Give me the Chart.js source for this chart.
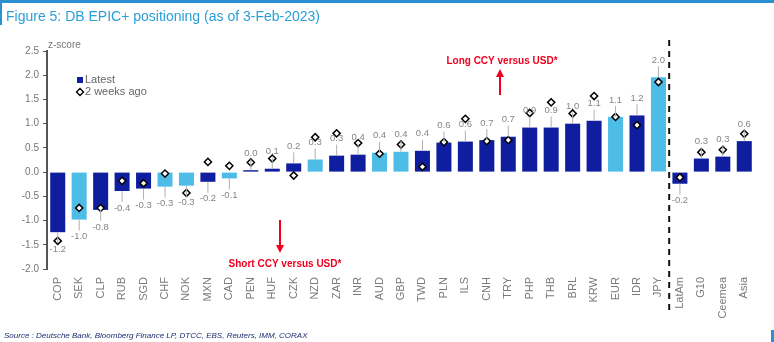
<!DOCTYPE html>
<html lang="en">
<head>
    <meta charset="UTF-8">
    <title>DB EPIC+ positioning</title>
    <script src="https://cdn.jsdelivr.net/npm/chart.js"></script>
    <style>
        body {
            margin: 0;
            background: #ffffff;
            font-family: Arial, "Liberation Sans", sans-serif;
        }

        .wrap {
            position: relative;
            width: 774px;
            height: 342px;
            overflow: hidden;
        }

        .top-bar {
            position: absolute;
            left: 0;
            top: 0;
            width: 774px;
            height: 3px;
            background: #2b8fd2;
        }

        .side-bar {
            position: absolute;
            left: 0;
            top: 0;
            width: 2px;
            height: 25px;
            background: #2b8fd2;
        }

        .corner-bar {
            position: absolute;
            left: 771px;
            top: 330px;
            width: 3px;
            height: 12px;
            background: #2b8fd2;
        }

        .title {
            position: absolute;
            left: 6px;
            top: 8px;
            font-size: 14px;
            color: #2a9fd8;
            white-space: nowrap;
        }

        .source {
            position: absolute;
            left: 4px;
            top: 331px;
            font-size: 8px;
            font-style: italic;
            color: #1d2d6e;
            white-space: nowrap;
        }

        canvas {
            position: absolute;
            left: 0;
            top: 0;
        }
    </style>
</head>
<body>
    <div class="wrap">
        <canvas id="epicChart" width="774" height="342"></canvas>
        <div class="top-bar"></div>
        <div class="side-bar"></div>
        <div class="corner-bar"></div>
        <div class="title">Figure 5: DB EPIC+ positioning (as of 3-Feb-2023)</div>
        <div class="source">Source : Deutsche Bank, Bloomberg Finance LP, DTCC, EBS, Reuters, IMM, CORAX</div>
    </div>

    <script>
        // data
        const categories = ['COP', 'SEK', 'CLP', 'RUB', 'SGD', 'CHF', 'NOK', 'MXN', 'CAD', 'PEN',
            'HUF', 'CZK', 'NZD', 'ZAR', 'INR', 'AUD', 'GBP', 'TWD', 'PLN', 'ILS',
            'CNH', 'TRY', 'PHP', 'THB', 'BRL', 'KRW', 'EUR', 'IDR', 'JPY',
            'LatAm', 'G10', 'Ceemea', 'Asia'];

        const latest = [-1.24, -0.98, -0.78, -0.39, -0.34, -0.30, -0.28, -0.20, -0.13, 0.04,
            0.07, 0.18, 0.26, 0.34, 0.36, 0.40, 0.42, 0.44, 0.61, 0.63,
            0.66, 0.73, 0.92, 0.92, 1.00, 1.06, 1.14, 1.17, 1.96,
            -0.24, 0.28, 0.32, 0.64];

        const twoWeeksAgo = [-1.42, -0.74, -0.74, -0.18, -0.23, -0.03, -0.43, 0.21, 0.13, 0.20,
            0.28, -0.07, 0.72, 0.80, 0.60, 0.38, 0.57, 0.11, 0.62, 1.10,
            0.64, 0.66, 1.22, 1.44, 1.21, 1.57, 1.14, 0.97, 1.86,
            -0.11, 0.41, 0.46, 0.79];

        // G10 currencies shown in light blue
        const g10Currencies = ['SEK', 'CHF', 'NOK', 'CAD', 'NZD', 'AUD', 'GBP', 'EUR', 'JPY'];

        // regional aggregates start here (dashed separator)
        const firstAggregate = 'LatAm';

        const yTicks = { min: -2.0, max: 2.5, step: 0.5 };

        const NAVY = '#0f1e9e';
        const LIGHT = '#4dbde7';
        const LABEL_GREY = '#858585';

        const barColors = categories.map(c => g10Currencies.includes(c) ? LIGHT : NAVY);

        const extrasPlugin = {
            id: 'extras',
            afterDatasetsDraw(chart) {
                const ctx = chart.ctx;
                const area = chart.chartArea;
                const x = chart.scales.x;
                const y = chart.scales.y;
                const bars = chart.getDatasetMeta(0).data;

                ctx.save();

                // value labels with leader lines
                ctx.font = '9.5px Arial';
                ctx.fillStyle = LABEL_GREY;
                ctx.strokeStyle = '#b0b0b0';
                ctx.lineWidth = 1;
                ctx.textAlign = 'center';
                ctx.textBaseline = 'middle';
                bars.forEach((bar, i) => {
                    const v = latest[i];
                    const dir = v >= 0 ? -1 : 1;
                    const end = bar.y;
                    const ly = end + dir * 17;
                    ctx.beginPath();
                    ctx.moveTo(bar.x, end);
                    ctx.lineTo(bar.x, end + dir * 11);
                    ctx.stroke();
                    ctx.fillText(v.toFixed(1), bar.x, ly);
                });

                // dashed separator before the aggregates
                const k = categories.indexOf(firstAggregate);
                const sx = (x.getPixelForValue(k - 1) + x.getPixelForValue(k)) / 2;
                ctx.strokeStyle = '#111111';
                ctx.lineWidth = 2;
                ctx.setLineDash([6, 5]);
                ctx.beginPath();
                ctx.moveTo(sx, 40);
                ctx.lineTo(sx, 310);
                ctx.stroke();
                ctx.setLineDash([]);

                // axis title
                ctx.font = '10px Arial';
                ctx.fillStyle = '#777777';
                ctx.textAlign = 'left';
                ctx.fillText('z-score', area.left + 1, 45);

                // legend
                ctx.font = '11px Arial';
                ctx.fillStyle = NAVY;
                ctx.fillRect(77, 77, 6, 6);
                ctx.fillStyle = '#666666';
                ctx.fillText('Latest', 85, 80);
                ctx.fillStyle = '#ffffff';
                ctx.strokeStyle = '#000000';
                ctx.lineWidth = 1.4;
                ctx.beginPath();
                ctx.moveTo(80, 88.5);
                ctx.lineTo(83.5, 92);
                ctx.lineTo(80, 95.5);
                ctx.lineTo(76.5, 92);
                ctx.closePath();
                ctx.fill();
                ctx.stroke();
                ctx.fillStyle = '#666666';
                ctx.fillText('2 weeks ago', 85, 92);

                // red annotations
                const red = '#f0001e';
                ctx.fillStyle = red;
                ctx.strokeStyle = red;
                ctx.font = 'bold 10px Arial';
                ctx.textAlign = 'center';
                ctx.fillText('Long CCY versus USD*', 502, 61);
                ctx.fillText('Short CCY versus USD*', 285, 264);

                ctx.lineWidth = 2;
                ctx.beginPath();
                ctx.moveTo(500, 95);
                ctx.lineTo(500, 75);
                ctx.moveTo(280, 220);
                ctx.lineTo(280, 247);
                ctx.stroke();

                ctx.beginPath();
                ctx.moveTo(500, 69);
                ctx.lineTo(504, 77);
                ctx.lineTo(496, 77);
                ctx.closePath();
                ctx.moveTo(280, 253);
                ctx.lineTo(284, 245);
                ctx.lineTo(276, 245);
                ctx.closePath();
                ctx.fill();

                ctx.restore();
            }
        };

        const ctx = document.getElementById('epicChart').getContext('2d');
        new Chart(ctx, {
            data: {
                labels: categories,
                datasets: [
                    {
                        type: 'bar',
                        label: 'Latest',
                        data: latest,
                        backgroundColor: barColors,
                        barPercentage: 0.7,
                        categoryPercentage: 1.0,
                        order: 2
                    },
                    {
                        type: 'line',
                        label: '2 weeks ago',
                        data: twoWeeksAgo,
                        showLine: false,
                        pointStyle: 'rectRot',
                        pointRadius: 3.6,
                        pointBackgroundColor: '#ffffff',
                        pointBorderColor: '#000000',
                        pointBorderWidth: 1.5,
                        order: 1
                    }
                ]
            },
            options: {
                responsive: false,
                animation: false,
                layout: {
                    padding: { top: 51, right: 19, bottom: 0, left: 0 }
                },
                plugins: {
                    legend: { display: false },
                    tooltip: { enabled: false }
                },
                scales: {
                    x: {
                        grid: { display: false, drawTicks: false },
                        border: { display: false },
                        ticks: {
                            color: '#7a7a7a',
                            font: { size: 11, family: 'Arial' },
                            minRotation: 90,
                            maxRotation: 90,
                            padding: 8,
                            autoSkip: false
                        },
                        afterFit(scale) {
                            scale.height = 73;
                        }
                    },
                    y: {
                        min: yTicks.min,
                        max: yTicks.max,
                        grid: {
                            drawOnChartArea: false,
                            drawTicks: true,
                            tickLength: 4,
                            color: '#555555',
                            lineWidth: 1
                        },
                        border: { display: true, color: '#555555', width: 2 },
                        ticks: {
                            stepSize: yTicks.step,
                            color: '#777777',
                            font: { size: 10, family: 'Arial' },
                            padding: 4,
                            callback: v => v.toFixed(1)
                        },
                        afterFit(scale) {
                            scale.width = 47;
                        }
                    }
                }
            },
            plugins: [extrasPlugin]
        });
    </script>
</body>
</html>
